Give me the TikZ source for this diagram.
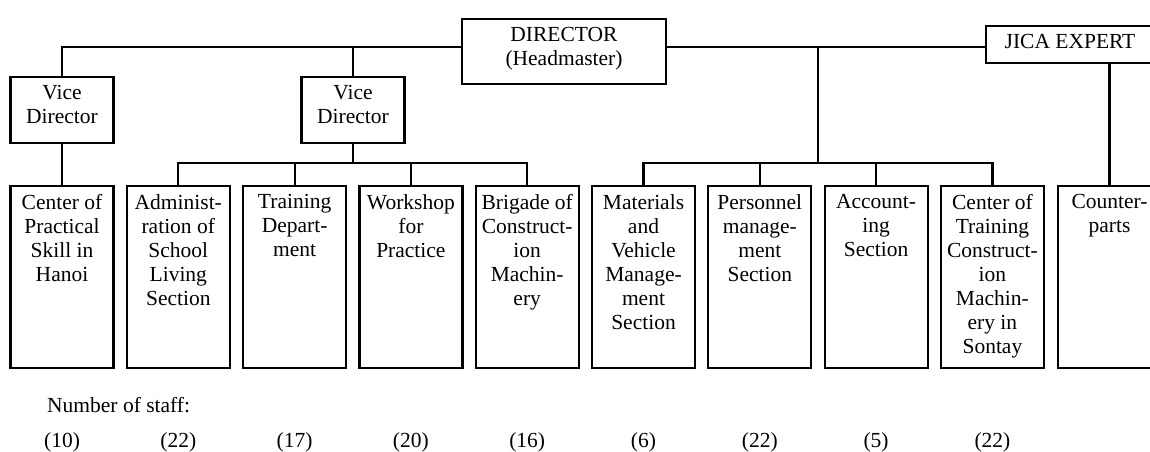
\documentclass[tikz,border=0pt]{standalone}
\usepackage{fontspec}
\setmainfont{Liberation Serif}
\begin{document}
\begin{tikzpicture}[x=1pt,y=-1pt,
  every node/.style={font=\fontsize{21.5}{24}\selectfont},
  unitbox/.style={draw, line width=2.2pt, minimum width=103pt, minimum height=182pt, anchor=north, inner sep=0pt},
  vicebox/.style={draw, line width=2.2pt, minimum width=103pt, minimum height=66pt, anchor=north, inner sep=0pt},
  lbl/.style={anchor=north, align=center, inner sep=0pt},
  conn/.style={line width=2.2pt},
  numtxt/.style={anchor=base, inner sep=0pt}]
\useasboundingbox (0,0) rectangle (1150,451);
\fill[white] (0,0) rectangle (1150,451);
\clip (0,0) rectangle (1150,451);
\newcommand{\fl}{\rule{0pt}{14.7pt}}
% top level
\node[draw, line width=2.2pt, minimum width=204pt, minimum height=65pt, anchor=north, inner sep=0pt] (dir) at (564,18) {};
\node[lbl] (dirt) at ([yshift=-9pt]dir.north) {\fl DIRECTOR\\(Headmaster)};
\node[draw, line width=2.2pt, minimum width=168pt, minimum height=37pt, anchor=north, inner sep=0pt] (jica) at (1070,25) {};
\node[lbl] (jicat) at ([yshift=-9pt]jica.north) {\fl JICA EXPERT};
% vice directors
\node[vicebox] (vd1) at (62,76) {};
\node[lbl] (vd1t) at ([yshift=-9pt]vd1.north) {\fl Vice\\Director};
\node[vicebox] (vd2) at (353,76) {};
\node[lbl] (vd2t) at ([yshift=-9pt]vd2.north) {\fl Vice\\Director};
% units
\node[unitbox] (b1) at (62.0,185) {};
\node[unitbox] (b2) at (178.3,185) {};
\node[unitbox] (b3) at (294.6,185) {};
\node[unitbox] (b4) at (410.9,185) {};
\node[unitbox] (b5) at (527.2,185) {};
\node[unitbox] (b6) at (643.5,185) {};
\node[unitbox] (b7) at (759.8,185) {};
\node[unitbox] (b8) at (876.1,185) {};
\node[unitbox] (b9) at (992.4,185) {};
\node[unitbox] (b10) at (1109.5,185) {};
\node[lbl] (t1) at ([yshift=-9pt]b1.north) {\fl Center of\\Practical\\Skill in\\Hanoi};
\node[lbl] (t2) at ([yshift=-9pt]b2.north) {\fl Administ-\\ration of\\School\\Living\\Section};
\node[lbl] (t3) at ([yshift=-9pt]b3.north) {\fl Training\hspace{18pt}\\Depart-\\ment};
\node[lbl] (t4) at ([yshift=-9pt]b4.north) {\fl Workshop\\for\\Practice};
\node[lbl] (t5) at ([yshift=-9pt]b5.north) {\fl Brigade of\\Construct-\\ion\\Machin-\\ery};
\node[lbl] (t6) at ([yshift=-9pt]b6.north) {\fl Materials\\and\\Vehicle\\Manage-\\ment\\Section};
\node[lbl] (t7) at ([yshift=-9pt]b7.north) {\fl Personnel\\manage-\\ment\\Section};
\node[lbl] (t8) at ([yshift=-9pt]b8.north) {\fl Account-\\ing\\Section};
\node[lbl] (t9) at ([yshift=-9pt]b9.north) {\fl Center of\\Training\\Construct-\\ion\\Machin-\\ery in\\Sontay};
\node[lbl] (t10) at ([yshift=-9pt]b10.north) {\fl Counter-\\parts};
% connectors
\coordinate (topy) at (0,47);
\coordinate (ly) at (0,163);
\coordinate (rhub) at (818,47);
\draw[conn] (vd1.north) -- (vd1.north |- topy) -- (dir.west |- topy);
\draw[conn] (vd2.north) -- (vd2.north |- topy);
\draw[conn] (dir.east |- topy) -- (jica.west |- topy);
\draw[conn] (rhub) -- (rhub |- ly);
\draw[conn] (vd1.south) -- (b1.north);
\draw[conn] (vd2.south) -- (vd2.south |- ly);
\draw[conn] (b2.north) -- (b2.north |- ly) -- (b5.north |- ly) -- (b5.north);
\draw[conn] (b3.north) -- (b3.north |- ly);
\draw[conn] (b4.north) -- (b4.north |- ly);
\draw[conn] (b6.north) -- (b6.north |- ly) -- (b9.north |- ly) -- (b9.north);
\draw[conn] (b7.north) -- (b7.north |- ly);
\draw[conn] (b8.north) -- (b8.north |- ly);
\draw[conn] (b10.north |- jica.south) -- (b10.north);
% staff numbers
\node[anchor=base west, inner sep=0pt] (staff) at (47,412) {Number of staff:};
\coordinate (numy) at (0,447);
\node[numtxt] (n1) at (b1.north |- numy) {(10)};
\node[numtxt] (n2) at (b2.north |- numy) {(22)};
\node[numtxt] (n3) at (b3.north |- numy) {(17)};
\node[numtxt] (n4) at (b4.north |- numy) {(20)};
\node[numtxt] (n5) at (b5.north |- numy) {(16)};
\node[numtxt] (n6) at (b6.north |- numy) {(6)};
\node[numtxt] (n7) at (b7.north |- numy) {(22)};
\node[numtxt] (n8) at (b8.north |- numy) {(5)};
\node[numtxt] (n9) at (b9.north |- numy) {(22)};
\end{tikzpicture}
\end{document}
